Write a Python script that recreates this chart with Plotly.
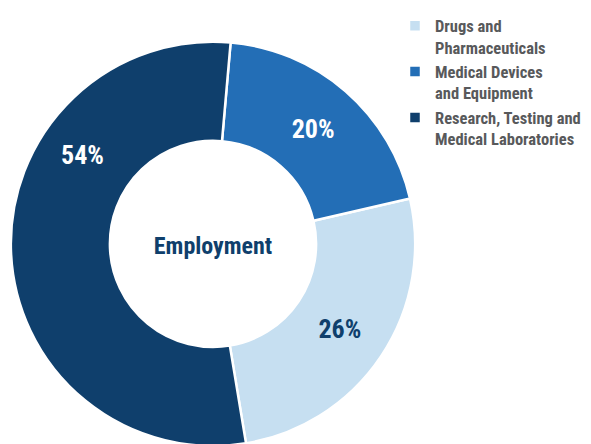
import plotly.graph_objects as go

# data (legend order)
labels = ["Drugs and<br>Pharmaceuticals", "Medical Devices<br>and Equipment",
          "Research, Testing and<br>Medical Laboratories"]
shares = [26, 20, 54]
colors = ["#c6dff1", "#236eb6", "#0f3f6c"]
text_colors = ["#0f3f6c", "#ffffff", "#ffffff"]
center_title = "Employment"

FONT = "Liberation Sans Narrow, Roboto Condensed, Roboto, sans-serif"

W, H = 591, 444
# page body has an 8px margin, so positions are given 8px up/left
cx, cy, r = 205, 234, 204

fig = go.Figure()

fig.add_trace(go.Pie(
    labels=labels,
    values=shares,
    sort=False,
    direction="counterclockwise",
    rotation=77,
    hole=0.51,
    marker=dict(colors=colors, line=dict(color="white", width=2.5)),
    texttemplate=["%{value}%", "%{value}%", ""],
    textposition="inside",
    insidetextorientation="horizontal",
    insidetextfont=dict(family=FONT, size=26, color=text_colors, weight="bold"),
    title=dict(text=center_title, position="middle center",
               font=dict(family=FONT, size=24, color="#0f3f6c", weight="bold")),
    domain=dict(x=[(cx - r) / W, (cx + r) / W],
                y=[(H - cy - r) / H, (H - cy + r) / H]),
    hoverinfo="label+percent",
))

# 54% label sits higher up in the dark slice
fig.add_annotation(
    x=74 / W, y=1 - 144 / H, xref="paper", yref="paper",
    xanchor="center", yanchor="middle",
    text=f"{shares[2]}%", showarrow=False,
    font=dict(family=FONT, size=26, color="white", weight="bold"),
)

fig.update_layout(
    width=W, height=H,
    margin=dict(l=0, r=0, t=0, b=0),
    paper_bgcolor="white",
    plot_bgcolor="white",
    showlegend=True,
    legend=dict(
        x=387 / W, y=1.008, xanchor="left", yanchor="top",
        valign="top",
        font=dict(family=FONT, size=16.5, color="#58595b", weight="bold"),
        bgcolor="rgba(0,0,0,0)",
    ),
)

fig.write_html("out.html")
